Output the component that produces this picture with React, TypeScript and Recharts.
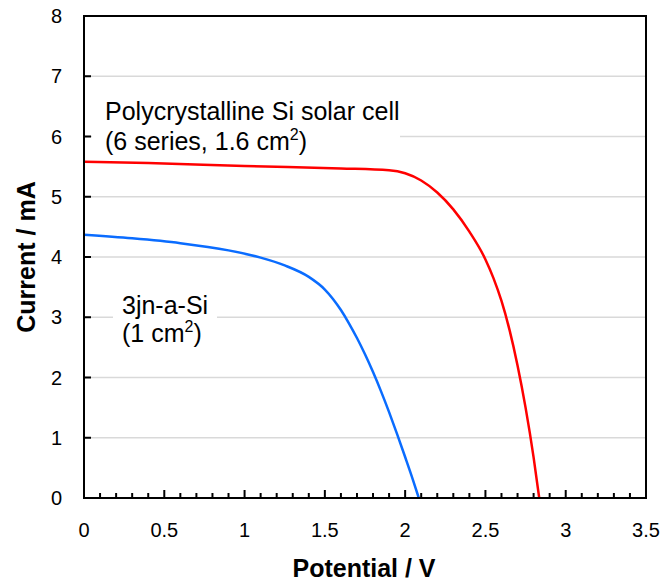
import React from 'react';
import { LineChart, Line, XAxis, YAxis, CartesianGrid, ReferenceArea } from 'recharts';

// Polycrystalline Si solar cell (6 series, 1.6 cm2)
const polyV = [0, 0.4, 1.0, 1.6, 1.9, 2.0, 2.1, 2.2, 2.3, 2.4, 2.5, 2.55, 2.6, 2.65, 2.7, 2.75, 2.8, 2.835];
const polyI = [5.58, 5.56, 5.51, 5.47, 5.44, 5.39, 5.27, 5.07, 4.79, 4.42, 3.96, 3.65, 3.27, 2.79, 2.2, 1.5, 0.675, 0];

// 3jn-a-Si (1 cm2)
const aSiV = [0, 0.3, 0.6, 0.9, 1.1, 1.25, 1.4, 1.5, 1.6, 1.65, 1.7, 1.75, 1.8, 1.85, 1.9, 1.95, 2.0, 2.05, 2.085];
const aSiI = [4.37, 4.31, 4.23, 4.11, 3.99, 3.86, 3.67, 3.46, 3.12, 2.9, 2.655, 2.385, 2.09, 1.77, 1.425, 1.06, 0.68, 0.29, 0];

const xTicks = [0, 0.1, 0.2, 0.3, 0.4, 0.5, 0.6, 0.7, 0.8, 0.9, 1, 1.1, 1.2, 1.3, 1.4, 1.5, 1.6, 1.7, 1.8, 1.9, 2, 2.1, 2.2, 2.3, 2.4, 2.5, 2.6, 2.7, 2.8, 2.9, 3, 3.1, 3.2, 3.3, 3.4, 3.5];
const xLabelTicks = [0, 0.5, 1, 1.5, 2, 2.5, 3, 3.5];
const yTicks = [0, 1, 2, 3, 4, 5, 6, 7, 8];

const xTitle = 'Potential / V';
const yTitle = 'Current / mA';

const polyData = polyV.map((v, k) => ({ v, i: polyI[k] }));
const aSiData = aSiV.map((v, k) => ({ v, i: aSiI[k] }));

const FONT = '"Liberation Sans", Arial, Helvetica, sans-serif';

function XTick(props: any) {
  const { x, y, payload } = props;
  const val = payload.value;
  const major = xLabelTicks.some((t) => Math.abs(t - val) < 1e-6);
  return (
    <g>
      <line x1={x} y1={y} x2={x} y2={y - (major ? 8 : 5)} stroke="#000" strokeWidth={2} />
      {major && (
        <text x={x} y={y + 39} textAnchor="middle" fontSize={20} fontFamily={FONT} fill="#000">
          {String(val)}
        </text>
      )}
    </g>
  );
}

function YTick(props: any) {
  const { x, y, payload } = props;
  return (
    <g>
      <line x1={x} y1={y} x2={x + 7} y2={y} stroke="#000" strokeWidth={2} />
      <text x={x - 22} y={y + 7} textAnchor="end" fontSize={20} fontFamily={FONT} fill="#000">
        {String(payload.value)}
      </text>
    </g>
  );
}

export default function App() {
  return (
    <div style={{ position: 'absolute', left: 0, top: 0, width: 665, height: 588, background: '#fff', fontFamily: FONT }}>
      <LineChart width={665} height={588} margin={{ top: 16, right: 19, bottom: 0, left: 0 }}>
        <CartesianGrid vertical={false} stroke="#d9d9d9" strokeWidth={1.5} />
        <XAxis
          type="number"
          dataKey="v"
          domain={[0, 3.5]}
          ticks={xTicks}
          interval={0}
          height={90}
          tick={<XTick />}
          tickLine={false}
          tickSize={0}
          tickMargin={0}
          axisLine={{ stroke: '#000', strokeWidth: 2 }}
          allowDataOverflow
        />
        <YAxis
          type="number"
          domain={[0, 8]}
          ticks={yTicks}
          interval={0}
          width={84}
          tick={<YTick />}
          tickLine={false}
          tickSize={0}
          tickMargin={0}
          axisLine={{ stroke: '#000', strokeWidth: 2 }}
          allowDataOverflow
        />
        <ReferenceArea x1={0} x2={3.5} y1={0} y2={8} fill="none" stroke="#000" strokeWidth={2} ifOverflow="visible" />
        <Line data={polyData} dataKey="i" type="monotone" stroke="#ff0000" strokeWidth={2.5} dot={false} isAnimationActive={false} />
        <Line data={aSiData} dataKey="i" type="monotone" stroke="#0a6cff" strokeWidth={2.5} dot={false} isAnimationActive={false} />
      </LineChart>
      <svg
        width={665}
        height={588}
        style={{ position: 'absolute', left: 0, top: 0, pointerEvents: 'none' }}
      >
        <rect x={92} y={92} width={308} height={65} fill="#fff" />
        <text x={105} y={120} fontSize={25} fontFamily={FONT} fill="#000">Polycrystalline Si solar cell</text>
        <text x={105} y={150} fontSize={25} fontFamily={FONT} fill="#000">
          (6 series, 1.6 cm<tspan fontSize={16} dy={-10}>2</tspan><tspan dy={10}>)</tspan>
        </text>
        <rect x={113} y={292} width={104} height={58} fill="#fff" />
        <text x={122} y={313.5} fontSize={25} fontFamily={FONT} fill="#000">3jn-a-Si</text>
        <text x={122} y={342} fontSize={25} fontFamily={FONT} fill="#000">
          (1 cm<tspan fontSize={16} dy={-10}>2</tspan><tspan dy={10}>)</tspan>
        </text>
        <text x={364} y={577} textAnchor="middle" fontSize={25} fontWeight="bold" fontFamily={FONT} fill="#000">{xTitle}</text>
        <text transform="translate(35,257) rotate(-90)" textAnchor="middle" fontSize={25} fontWeight="bold" fontFamily={FONT} fill="#000">{yTitle}</text>
      </svg>
    </div>
  );
}
